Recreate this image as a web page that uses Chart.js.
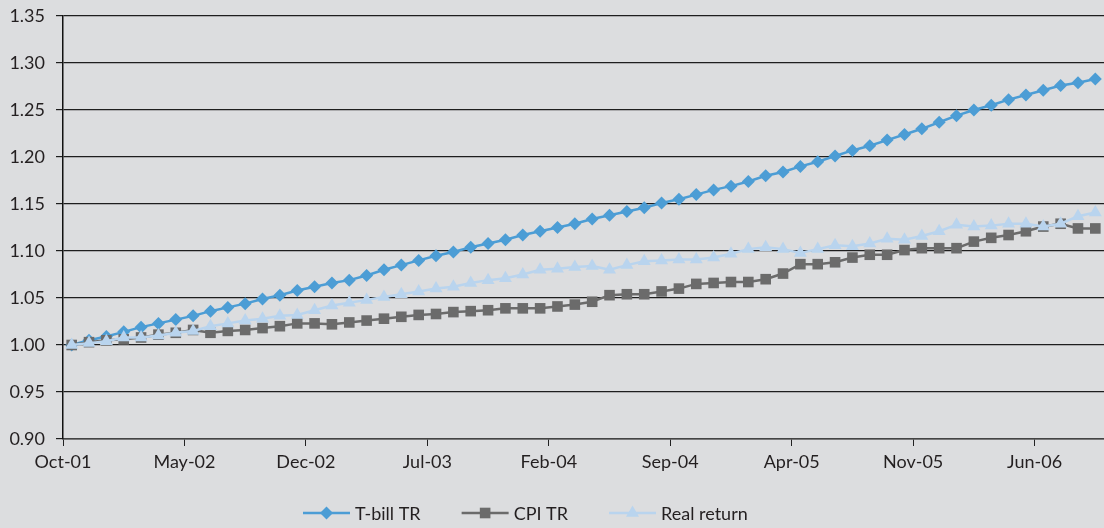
<!DOCTYPE html>
<html><head><meta charset="utf-8">
<script src="https://cdn.jsdelivr.net/npm/chart.js@4.4.0/dist/chart.umd.min.js"></script>
<style>html,body{margin:0;padding:0;background:#dcdddf;}#wrap{width:1104px;height:528px;}</style>
</head><body><div id="wrap"><canvas id="c" width="1104" height="528"></canvas></div>
<script>
const months = ['Oct-01','Nov-01','Dec-01',
 'Jan-02','Feb-02','Mar-02','Apr-02','May-02','Jun-02','Jul-02','Aug-02','Sep-02','Oct-02','Nov-02','Dec-02',
 'Jan-03','Feb-03','Mar-03','Apr-03','May-03','Jun-03','Jul-03','Aug-03','Sep-03','Oct-03','Nov-03','Dec-03',
 'Jan-04','Feb-04','Mar-04','Apr-04','May-04','Jun-04','Jul-04','Aug-04','Sep-04','Oct-04','Nov-04','Dec-04',
 'Jan-05','Feb-05','Mar-05','Apr-05','May-05','Jun-05','Jul-05','Aug-05','Sep-05','Oct-05','Nov-05','Dec-05',
 'Jan-06','Feb-06','Mar-06','Apr-06','May-06','Jun-06','Jul-06','Aug-06','Sep-06'];
const xTickLabels = ['Oct-01','May-02','Dec-02','Jul-03','Feb-04','Sep-04','Apr-05','Nov-05','Jun-06'];
const yTickValues = [0.90,0.95,1.00,1.05,1.10,1.15,1.20,1.25,1.30,1.35];
const seriesNames = ['T-bill TR','CPI TR','Real return'];
const tbill = [1.000,1.005,1.009,1.014,1.019,1.023,1.027,1.031,1.036,1.040,
 1.044,1.049,1.053,1.058,1.062,1.066,1.069,1.074,1.080,1.085,
 1.090,1.095,1.099,1.104,1.108,1.112,1.117,1.121,1.125,1.129,
 1.134,1.138,1.142,1.146,1.151,1.155,1.160,1.165,1.169,1.174,
 1.180,1.184,1.190,1.195,1.201,1.207,1.212,1.218,1.224,1.230,
 1.237,1.244,1.250,1.255,1.261,1.266,1.271,1.276,1.279,1.283];
const cpi = [1.000,1.003,1.005,1.006,1.008,1.011,1.013,1.016,1.013,1.015,
 1.016,1.018,1.020,1.023,1.023,1.022,1.024,1.026,1.028,1.030,
 1.032,1.033,1.035,1.036,1.037,1.039,1.039,1.039,1.041,1.043,
 1.046,1.053,1.054,1.054,1.057,1.060,1.065,1.066,1.067,1.067,
 1.070,1.076,1.086,1.086,1.088,1.093,1.096,1.096,1.101,1.103,
 1.103,1.103,1.110,1.114,1.117,1.121,1.126,1.129,1.124,1.124];
const realReturn = [1.000,1.002,1.004,1.008,1.008,1.010,1.013,1.015,1.020,1.023,
 1.026,1.028,1.031,1.032,1.037,1.042,1.045,1.048,1.051,1.054,
 1.057,1.060,1.062,1.066,1.069,1.071,1.075,1.080,1.081,1.083,
 1.084,1.080,1.085,1.089,1.090,1.091,1.091,1.093,1.097,1.102,
 1.104,1.102,1.098,1.102,1.106,1.105,1.108,1.113,1.112,1.116,
 1.121,1.128,1.126,1.127,1.129,1.129,1.126,1.129,1.137,1.141];

const FONT = 'Lato, "Open Sans", sans-serif';
const TXT = '#231f20';
const toPts = arr => arr.map((v, i) => ({x: i + 0.5, y: v}));
const xTickPos = xTickLabels.map(l => months.indexOf(l));

const colors = ['#4c9dd5', '#6b6b6b', '#b9d4ee'];
const styles = [
  {pointStyle: 'rectRot', radius: 6.5},
  {pointStyle: 'rect', radius: 7.5},
  {pointStyle: 'triangle', radius: 7.5}
];

const lineLegend = {
  id: 'lineLegend',
  afterDraw(chart) {
    const ctx = chart.ctx;
    ctx.save();
    ctx.font = '18px ' + FONT;
    ctx.textBaseline = 'middle';
    ctx.textAlign = 'left';
    let x = 303;
    const y = 513;
    seriesNames.forEach((name, i) => {
      ctx.strokeStyle = colors[i];
      ctx.fillStyle = colors[i];
      ctx.lineWidth = 2.5;
      ctx.beginPath();
      ctx.moveTo(x, y);
      ctx.lineTo(x + 47, y);
      ctx.stroke();
      Chart.helpers.drawPoint(ctx, {pointStyle: styles[i].pointStyle, radius: styles[i].radius, rotation: 0, borderWidth: 0}, x + 23.5, y);
      ctx.fillStyle = TXT;
      ctx.fillText(name, x + 52, y + 1);
      x += 52 + ctx.measureText(name).width + 41;
    });
    ctx.restore();
  }
};

const mk = (i, data, order) => ({
  label: seriesNames[i],
  data: toPts(data),
  borderColor: colors[i],
  backgroundColor: colors[i],
  borderWidth: 2.5,
  pointStyle: styles[i].pointStyle,
  pointRadius: styles[i].radius,
  pointBorderWidth: 0,
  pointBackgroundColor: colors[i],
  tension: 0,
  order: order
});

new Chart(document.getElementById('c'), {
  type: 'line',
  data: {datasets: [mk(0, tbill, 2), mk(1, cpi, 1), mk(2, realReturn, 0)]},
  plugins: [lineLegend],
  options: {
    responsive: false,
    devicePixelRatio: 1,
    animation: false,
    layout: {autoPadding: false, padding: {top: 16, right: 0, bottom: 0, left: 0}},
    plugins: {legend: {display: false}, tooltip: {enabled: false}},
    scales: {
      x: {
        type: 'linear', min: 0, max: 60,
        afterBuildTicks: s => { s.ticks = xTickPos.map(v => ({value: v})); },
        afterFit: s => { s.height = 89; s.paddingLeft = 0; s.paddingRight = 0; },
        ticks: {callback: v => months[v], font: {family: FONT, size: 18}, color: TXT, padding: 5, maxRotation: 0, autoSkip: false},
        grid: {drawOnChartArea: false, drawTicks: true, tickLength: 7, color: '#222', lineWidth: 1},
        border: {color: '#444', width: 1.5}
      },
      y: {
        type: 'linear', min: 0.9, max: 1.35,
        afterBuildTicks: s => { s.ticks = yTickValues.map(v => ({value: v})); },
        afterFit: s => { s.width = 63; s.paddingTop = 0; s.paddingBottom = 0; },
        ticks: {callback: v => v.toFixed(2), font: {family: FONT, size: 18}, color: TXT, padding: 11},
        grid: {color: '#1e1e1e', lineWidth: 1.2, tickLength: 7},
        border: {color: '#111', width: 1.5}
      }
    }
  }
});
</script></body></html>
